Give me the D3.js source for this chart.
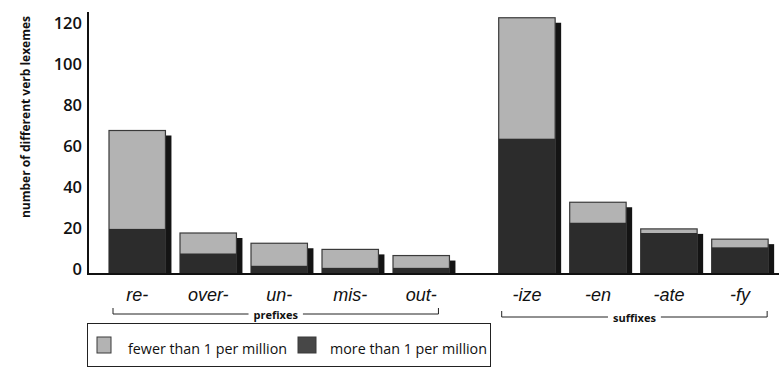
<!DOCTYPE html>
<html>
<head>
<meta charset="utf-8">
<script src="https://cdn.jsdelivr.net/npm/d3@7"></script>
<style>
  html, body { margin: 0; padding: 0; background: #fff; }
  svg { display: block; }
</style>
</head>
<body>
<svg id="chart" width="779" height="368"></svg>
<script>
// ---- data ----
const prefixes = ["re-", "over-", "un-", "mis-", "out-"];
const suffixes = ["-ize", "-en", "-ate", "-fy"];
const categories = prefixes.concat(suffixes);
const totalValues = [70, 20, 15, 12, 9, 125, 35, 22, 17];     // all verb lexemes
const frequentValues = [22, 10, 4, 3, 3, 66, 25, 20, 13];      // more than 1 per million
const yTicks = [0, 20, 40, 60, 80, 100, 120];
const groupLabels = ["prefixes", "suffixes"];
const legendLabels = ["fewer than 1 per million", "more than 1 per million"];

// ---- layout ----
const svg = d3.select("#chart");
const axisX = 88, baseY = 274, gap = 34.7;
const colLight = "#b3b3b3", colDark = "#2c2c2c", colShadow = "#141414", colEdge = "#3a3a3a";

const y = d3.scaleLinear().domain([0, 120]).range([baseY, 28]);
const x = d3.scaleBand().domain(categories).range([109, 109 + 71 * (9 - 0.205)])
  .paddingInner(0.205).paddingOuter(0);
const bx = d => x(d) + (suffixes.includes(d) ? gap : 0);
const bw = x.bandwidth();

const rows = categories.map((c, i) => ({ c, total: totalValues[i], freq: frequentValues[i] }));

// y axis
const yAxis = d3.axisLeft(y).tickValues(yTicks).tickSize(0).tickPadding(6);
const gy = svg.append("g").attr("transform", `translate(${axisX},0)`).call(yAxis);
gy.select(".domain").remove();
gy.selectAll("text").attr("dy", "0.0em")
  .style("font-family", "'Open Sans', sans-serif").style("font-weight", 600)
  .style("font-size", "16.5px").attr("fill", "#111");

svg.append("text")
  .attr("transform", `translate(25,117) rotate(-90)`)
  .attr("text-anchor", "middle").attr("dominant-baseline", "central")
  .style("font-family", "'Open Sans', sans-serif").style("font-weight", 700)
  .style("font-size", "12px").attr("fill", "#111")
  .text("number of different verb lexemes");

// bars: shadow
const bars = svg.append("g");
bars.selectAll("rect.shadow").data(rows).join("rect")
  .attr("class", "shadow")
  .attr("x", d => bx(d.c) + 6).attr("y", d => y(d.total) + 5)
  .attr("width", bw).attr("height", d => baseY - y(d.total) - 5)
  .attr("fill", colShadow);
// light (total)
bars.selectAll("rect.light").data(rows).join("rect")
  .attr("class", "light")
  .attr("x", d => bx(d.c)).attr("y", d => y(d.total))
  .attr("width", bw).attr("height", d => baseY - y(d.total))
  .attr("fill", colLight).attr("stroke", colEdge).attr("stroke-width", 1.2);
// dark (frequent)
bars.selectAll("rect.dark").data(rows).join("rect")
  .attr("class", "dark")
  .attr("x", d => bx(d.c)).attr("y", d => y(d.freq))
  .attr("width", bw).attr("height", d => baseY - y(d.freq))
  .attr("fill", colDark);

// axis lines
svg.append("line").attr("x1", axisX).attr("x2", axisX).attr("y1", 12).attr("y2", baseY + 1)
  .attr("stroke", "#111").attr("stroke-width", 2);
svg.append("line").attr("x1", axisX).attr("x2", 779).attr("y1", baseY).attr("y2", baseY)
  .attr("stroke", "#111").attr("stroke-width", 2);

// category labels
svg.append("g").selectAll("text").data(rows).join("text")
  .attr("x", d => bx(d.c) + bw / 2).attr("y", 301)
  .attr("text-anchor", "middle")
  .style("font-family", "'Liberation Sans', Arial, sans-serif").style("font-style", "italic")
  .style("font-size", "18px").attr("fill", "#111")
  .text(d => d.c);

// group brackets
const groups = [
  { label: groupLabels[0], x1: bx(prefixes[0]) + 4, x2: bx(prefixes[prefixes.length - 1]) + bw - 11, yy: 314 },
  { label: groupLabels[1], x1: bx(suffixes[0]) + 3, x2: bx(suffixes[suffixes.length - 1]) + bw - 1, yy: 317 }
];
groups.forEach(g => {
  const cx = (g.x1 + g.x2) / 2;
  const t = svg.append("text").attr("x", cx).attr("y", g.yy).attr("text-anchor", "middle")
    .attr("dominant-baseline", "central")
    .style("font-family", "'Open Sans', sans-serif").style("font-weight", 700)
    .style("font-size", "11px").attr("fill", "#111").text(g.label);
  const w = t.node().getComputedTextLength();
  const path = `M${g.x1},${g.yy - 6}V${g.yy}H${cx - w / 2 - 5}M${cx + w / 2 + 5},${g.yy}H${g.x2}V${g.yy - 6}`;
  svg.append("path").attr("d", path).attr("fill", "none").attr("stroke", "#222").attr("stroke-width", 1);
});

// legend
const lg = svg.append("g");
lg.append("rect").attr("x", 87.5).attr("y", 323.5).attr("width", 403).attr("height", 43)
  .attr("fill", "none").attr("stroke", "#222").attr("stroke-width", 1);
const legendItems = [
  { label: legendLabels[0], fill: colLight, sx: 97, sw: 14, tx: 128 },
  { label: legendLabels[1], fill: "#474747", sx: 298, sw: 18, tx: 330 }
];
legendItems.forEach(it => {
  lg.append("rect").attr("x", it.sx).attr("y", 337).attr("width", it.sw).attr("height", 16)
    .attr("fill", it.fill).attr("stroke", colEdge).attr("stroke-width", 1);
  lg.append("text").attr("x", it.tx).attr("y", 348).attr("dominant-baseline", "central")
    .style("font-family", "'Open Sans', sans-serif").style("font-size", "14.3px").attr("fill", "#111")
    .text(it.label);
});
</script>
</body>
</html>
